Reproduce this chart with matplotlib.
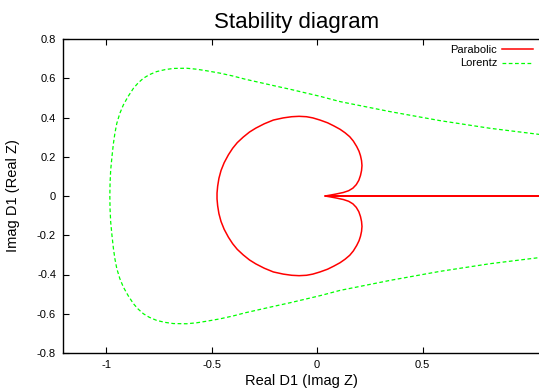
import matplotlib
matplotlib.use('Agg')
import matplotlib.pyplot as plt

# Stability diagram, values

# Parabolic: the loop, upper branch from the cusp round to the far left
parab_up_x = [0.038, 0.060, 0.090, 0.125, 0.150, 0.170, 0.186, 0.198, 0.206,
              0.211, 0.213, 0.211, 0.206, 0.199, 0.188, 0.172, 0.155, 0.133,
              0.109, 0.080, 0.050, 0.014, -0.020, -0.050, -0.085, -0.120,
              -0.160, -0.207, -0.250, -0.290, -0.320, -0.350, -0.378, -0.400,
              -0.420, -0.440, -0.455, -0.465, -0.471, -0.474, -0.474]
parab_up_y = [0.000, 0.004, 0.010, 0.018, 0.027, 0.040, 0.058, 0.080, 0.105,
              0.130, 0.155, 0.180, 0.205, 0.228, 0.252, 0.280, 0.302, 0.322,
              0.340, 0.357, 0.373, 0.387, 0.398, 0.404, 0.406, 0.404, 0.398,
              0.387, 0.368, 0.346, 0.326, 0.300, 0.272, 0.243, 0.210, 0.170,
              0.130, 0.090, 0.050, 0.015, 0.000]
# lower branch, from the far left back to the cusp
parab_lo_x = [-0.474, -0.474, -0.471, -0.465, -0.455, -0.440, -0.420, -0.400,
              -0.378, -0.350, -0.320, -0.290, -0.250, -0.207, -0.160, -0.120,
              -0.085, -0.050, -0.020, 0.014, 0.050, 0.080, 0.109, 0.133, 0.155,
              0.172, 0.188, 0.199, 0.206, 0.211, 0.213, 0.211, 0.206, 0.198,
              0.186, 0.170, 0.150, 0.125, 0.090, 0.060, 0.038]
parab_lo_y = [0.000, -0.015, -0.050, -0.090, -0.130, -0.170, -0.210, -0.243,
              -0.272, -0.300, -0.326, -0.346, -0.368, -0.387, -0.398, -0.404,
              -0.406, -0.404, -0.398, -0.387, -0.373, -0.357, -0.340, -0.322,
              -0.302, -0.280, -0.252, -0.228, -0.205, -0.180, -0.155, -0.130,
              -0.105, -0.080, -0.058, -0.040, -0.027, -0.018, -0.010, -0.004,
              0.000]
# the tail along the real axis, from the cusp to the right edge
parab_tail_x = [0.038, 1.06]
parab_tail_y = [0.0, 0.0]

# Lorentz: upper branch from the right edge round to the far left
lor_up_x = [1.060, 0.820, 0.583, 0.346, 0.109, 0.014, -0.128, -0.200, -0.270,
            -0.340, -0.397, -0.460, -0.523, -0.570, -0.618, -0.681, -0.720,
            -0.760, -0.795, -0.823, -0.848, -0.870, -0.895, -0.918, -0.935,
            -0.949, -0.958, -0.965, -0.972, -0.978, -0.981, -0.982]
lor_up_y = [0.313, 0.345, 0.384, 0.430, 0.481, 0.508, 0.544, 0.561, 0.578,
            0.595, 0.611, 0.626, 0.638, 0.646, 0.651, 0.650, 0.644, 0.634,
            0.618, 0.600, 0.576, 0.549, 0.508, 0.464, 0.420, 0.370, 0.320,
            0.268, 0.200, 0.132, 0.066, 0.000]
# lower branch, from the far left back to the right edge
lor_lo_x = [-0.982, -0.981, -0.978, -0.972, -0.965, -0.958, -0.949, -0.935,
            -0.918, -0.895, -0.870, -0.848, -0.823, -0.795, -0.760, -0.720,
            -0.681, -0.618, -0.570, -0.523, -0.460, -0.397, -0.340, -0.270,
            -0.200, -0.128, 0.014, 0.109, 0.346, 0.583, 0.820, 1.060]
lor_lo_y = [0.000, -0.066, -0.132, -0.200, -0.268, -0.320, -0.370, -0.420,
            -0.464, -0.508, -0.549, -0.576, -0.600, -0.618, -0.634, -0.644,
            -0.650, -0.651, -0.646, -0.638, -0.626, -0.611, -0.595, -0.578,
            -0.561, -0.544, -0.508, -0.481, -0.430, -0.384, -0.345, -0.313]

xticks = [-1, -0.5, 0, 0.5]
xticklabels = ['-1', '-0.5', '0', '0.5']
yticks = [-0.8, -0.6, -0.4, -0.2, 0, 0.2, 0.4, 0.6, 0.8]
yticklabels = ['-0.8', '-0.6', '-0.4', '-0.2', '0', '0.2', '0.4', '0.6', '0.8']

plt.rcParams['font.family'] = ['Liberation Sans', 'DejaVu Sans']

fig = plt.figure(figsize=(5.39, 3.90), dpi=100)
ax = fig.add_axes([63/539, 37/390, (539-63)/539, 314/390])

# one continuous path per series
px = parab_tail_x[::-1] + parab_up_x + parab_lo_x + parab_tail_x
py = parab_tail_y[::-1] + parab_up_y + parab_lo_y + parab_tail_y
lx = lor_up_x + lor_lo_x
ly = lor_up_y + lor_lo_y

ax.plot(px, py, color='#ff0000', lw=1.1, label='Parabolic',
        solid_joinstyle='round')
ax.plot(lx, ly, color='#00ff00', lw=0.9, dashes=(3, 2), label='Lorentz')

ax.set_xlim(-1.204, 1.052)
ax.set_ylim(-0.8, 0.8)
ax.set_xticks(xticks, xticklabels)
ax.set_yticks(yticks, yticklabels)
ax.tick_params(direction='in', length=4, width=0.8, labelsize=8,
               top=True, right=False, pad=5)
ax.spines['right'].set_visible(False)
for s in ('left', 'bottom', 'top'):
    ax.spines[s].set_linewidth(1.0)

ax.set_title('Stability diagram', fontsize=16, pad=8, x=0.49)
ax.set_xlabel('Real D1 (Imag Z)', fontsize=10.5, labelpad=3)
ax.set_ylabel('Imag D1 (Real Z)', fontsize=10.5, labelpad=12)

ax.legend(loc='upper right', frameon=False, markerfirst=False, fontsize=8,
          handlelength=2.8, handletextpad=0.4, labelspacing=0.3,
          borderaxespad=0.35, borderpad=0.2)

fig.savefig('out.png', dpi=100)
